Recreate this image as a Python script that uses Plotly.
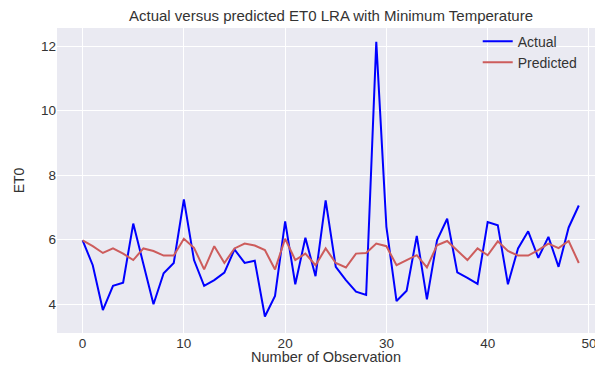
import plotly.graph_objects as go

observation = list(range(50))
actual = [5.98, 5.21, 3.82, 4.57, 4.67, 6.50, 5.25, 4.00, 4.96, 5.28,
          7.25, 5.37, 4.57, 4.75, 4.98, 5.70, 5.28, 5.35, 3.62, 4.26,
          6.57, 4.62, 6.06, 4.87, 7.22, 5.16, 4.75, 4.39, 4.29, 12.13,
          6.40, 4.10, 4.42, 6.12, 4.15, 5.98, 6.65, 4.99, 4.82, 4.63,
          6.55, 6.45, 4.62, 5.73, 6.26, 5.44, 6.09, 5.16, 6.38, 7.06]
predicted = [5.98, 5.80, 5.59, 5.73, 5.57, 5.37, 5.73, 5.65, 5.51, 5.51,
             6.03, 5.75, 5.08, 5.80, 5.28, 5.73, 5.88, 5.82, 5.68, 5.08,
             6.03, 5.37, 5.57, 5.21, 5.73, 5.28, 5.14, 5.57, 5.59, 5.88,
             5.80, 5.21, 5.37, 5.52, 5.14, 5.83, 5.96, 5.68, 5.37, 5.73,
             5.52, 5.95, 5.65, 5.51, 5.51, 5.68, 5.88, 5.74, 5.96, 5.28]
x_ticks = [0, 10, 20, 30, 40, 50]
y_ticks = [4, 6, 8, 10, 12]

FONT = "Liberation Sans, Arial, sans-serif"
TXT = "#333333"
fig = go.Figure()
fig.add_trace(go.Scatter(x=observation, y=actual, mode="lines", name="Actual",
                         line=dict(color="#0000FF", width=2)))
fig.add_trace(go.Scatter(x=observation, y=predicted, mode="lines", name="Predicted",
                         line=dict(color="#CD5C5C", width=2)))

fig.update_layout(
    width=595, height=365,
    margin=dict(l=57, r=0, t=28, b=32),
    paper_bgcolor="white",
    plot_bgcolor="#EAEAF2",
    font=dict(family=FONT, size=13, color=TXT),
    title=dict(text="Actual versus predicted ET0 LRA with Minimum Temperature",
               x=331 / 595, xanchor="center", xref="container",
               y=1 - 16 / 365, yanchor="middle", yref="container",
               font=dict(size=15, color=TXT)),
    showlegend=True,
    legend=dict(x=0.782, y=1.008, xanchor="left", yanchor="top",
                bgcolor="rgba(0,0,0,0)", font=dict(size=14, color=TXT),
                tracegroupgap=0, itemwidth=30),
    xaxis=dict(range=[-2.53, 50.6], tickmode="array", tickvals=x_ticks,
               showgrid=True, gridcolor="white", gridwidth=1, zeroline=False,
               showline=False, ticks="", ticklen=0, ticklabeloverflow="allow",
               title=dict(text="Number of Observation", standoff=4,
                          font=dict(size=14.5, color=TXT)),
               tickfont=dict(size=13.5, color=TXT)),
    yaxis=dict(range=[3.11, 12.56], tickmode="array", tickvals=y_ticks,
               showgrid=True, gridcolor="white", gridwidth=1, zeroline=False,
               showline=False, ticks="", ticklen=0,
               title=dict(text="ET0", standoff=13,
                          font=dict(size=14, color=TXT)),
               tickfont=dict(size=13.5, color=TXT)),
)

fig.write_html("out.html")
